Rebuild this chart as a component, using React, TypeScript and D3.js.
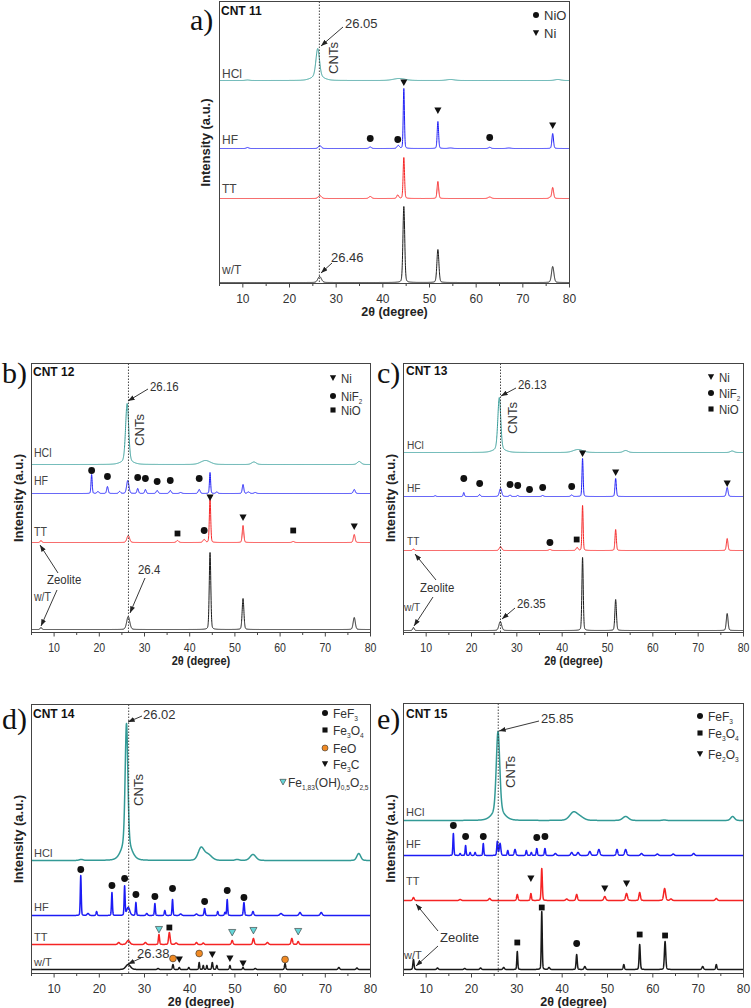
import React from 'react';
import * as d3 from 'd3';

type Peak = [number, number, number]; // [2θ, height (a.u.), FWHM (deg)]
type Pt = [number, number]; // [2θ, intensity (a.u.)]

const xTickValues = [10, 20, 30, 40, 50, 60, 70, 80];
const xMinorTickValues = [5, 15, 25, 35, 45, 55, 65, 75];
const seriesNames = ['HCl', 'HF', 'TT', 'w/T'];

// ---------------- a) CNT 11 ----------------
const aOffsets = [203, 135, 85, 1];
const aHCl: Peak[] = [[26.05, 28, 0.9], [26.0, 4, 3.0], [43.5, 2, 3], [54.5, 1, 2], [77.5, 1, 1.5], [11, 0.5, 1]];
const aHF: Peak[] = [[11, 1, 0.6], [26.5, 3, 0.7], [37.3, 1.5, 0.6], [43.3, 3, 0.6], [44.5, 60, 0.3], [51.8, 27, 0.35], [62.9, 1.2, 0.6], [76.4, 15, 0.4], [54.5, 0.5, 1], [67, 0.5, 1]];
const aTT: Peak[] = [[26.5, 3, 0.8], [37.3, 2, 0.7], [43.2, 3.5, 0.5], [44.5, 41, 0.35], [51.8, 17, 0.4], [62.9, 1.5, 0.8], [76.4, 11, 0.45], [75.8, 1, 0.5]];
const aWT: Peak[] = [[26.46, 6, 0.9], [44.5, 76, 0.45], [51.8, 33, 0.5], [76.4, 16, 0.6]];
const aNiMarks: Pt[] = [[44.5, 201], [51.8, 173], [76.4, 158]];
const aNiOMarks: Pt[] = [[37.3, 145], [43.2, 144], [62.9, 146]];

// ---------------- b) CNT 12 ----------------
const bOffsets = [168, 139, 90, 3];
const bHCl: Peak[] = [[26.16, 58, 0.8], [26.1, 3, 3], [43.5, 4, 2.5], [54.2, 2.5, 1.2], [77.5, 3, 1]];
const bHF: Peak[] = [[18.3, 19, 0.3], [19.7, 2, 0.5], [21.8, 7, 0.4], [24.5, 2, 0.5], [26.3, 13, 0.6], [28.5, 5, 0.4], [30.2, 4, 0.4], [32.8, 3, 0.5], [35.7, 3, 0.5], [38, 1, 0.6], [42.1, 4, 0.5], [44.5, 21, 0.3], [46, 1.5, 0.5], [51.8, 9, 0.4], [53, 1.5, 0.6], [54.5, 1, 0.6], [76.4, 4, 0.5]];
const bTT: Peak[] = [[7.1, 2, 0.4], [26.4, 7, 0.7], [37.3, 2, 0.6], [43.2, 3, 0.6], [44.5, 44, 0.35], [51.8, 17, 0.4], [62.9, 1, 0.6], [76.4, 8, 0.45]];
const bWT: Peak[] = [[7.1, 2, 0.4], [26.4, 13, 0.8], [44.5, 77, 0.4], [51.8, 31, 0.45], [76.4, 12, 0.55]];
const bNiMarks: Pt[] = [[44.5, 135], [51.8, 115], [76.4, 106]];
const bNiF2Marks: Pt[] = [[18.3, 162], [21.8, 156], [28.5, 155], [30.2, 154], [32.8, 151], [35.7, 152], [42.1, 154], [43.2, 102]];
const bNiOMarks: Pt[] = [[37.3, 99], [62.9, 102]];

// ---------------- c) CNT 13 ----------------
const cOffsets = [180, 136, 82, 2];
const cHCl: Peak[] = [[26.13, 52, 0.75], [26.1, 3, 3], [43.5, 3, 2.5], [54, 2, 1.2], [77.5, 1.5, 1]];
const cHF: Peak[] = [[12, 0.8, 0.4], [18.3, 4, 0.3], [21.8, 2, 0.4], [26.4, 8, 0.6], [28.5, 1.5, 0.4], [30.2, 1, 0.4], [35.7, 1, 0.5], [42.1, 1.5, 0.5], [44.5, 38, 0.3], [51.8, 18, 0.35], [76.4, 9, 0.45]];
const cTT: Peak[] = [[7.2, 1.5, 0.4], [26.4, 4, 0.6], [37.3, 1, 0.6], [43.3, 3, 0.5], [44.5, 45, 0.3], [51.8, 21, 0.35], [76.4, 12, 0.4]];
const cWT: Peak[] = [[7.2, 3, 0.4], [26.35, 9, 0.7], [44.5, 73, 0.35], [51.8, 31, 0.4], [76.4, 17, 0.45]];
const cNiMarks: Pt[] = [[44.5, 179], [51.8, 160], [76.4, 149]];
const cNiF2Marks: Pt[] = [[18.3, 154], [21.8, 149], [28.5, 148], [30.2, 147], [32.8, 143], [35.7, 145], [42.1, 146], [37.3, 90]];
const cNiOMarks: Pt[] = [[43.2, 93]];

// ---------------- d) CNT 14 ----------------
const dOffsets = [113, 58, 29, 4];
const dHCl: Peak[] = [[26.02, 120, 0.7], [26.0, 17, 2.5], [16, 1, 1], [42.5, 12, 1.5], [44, 6, 2], [50.5, 1, 1], [54, 6, 1.5], [77.4, 7, 1.0]];
const dHF: Peak[] = [[15.9, 40, 0.25], [17.5, 2, 0.5], [19.4, 4, 0.3], [22.8, 23, 0.25], [25.6, 29, 0.25], [26.4, 8, 0.8], [28.1, 13, 0.25], [30.5, 2, 0.4], [32.3, 12, 0.25], [34.5, 5, 0.3], [36.2, 16, 0.25], [38, 1.5, 0.5], [41.5, 1.5, 0.5], [43.3, 7, 0.3], [46.2, 4, 0.3], [47.8, 3, 0.3], [48.3, 16, 0.25], [52, 13, 0.3], [54, 4, 0.4], [60.2, 2, 0.6], [64.4, 3, 0.5], [69.1, 3, 0.5]];
const dTT: Peak[] = [[24.3, 2, 0.5], [26.4, 4, 0.8], [30.2, 2, 0.5], [33.2, 10, 0.3], [35.5, 12, 0.4], [37, 1.5, 0.5], [41.5, 2, 0.4], [43, 1.5, 0.4], [49.4, 4, 0.4], [54.1, 6, 0.4], [57.2, 2, 0.5], [62.6, 6, 0.4], [64, 3, 0.4]];
const dWT: Peak[] = [[26.38, 5, 1.2], [33, 1, 0.4], [36.3, 5, 0.3], [37.7, 2, 0.3], [39.8, 2, 0.3], [42.1, 7, 0.25], [43, 4, 0.25], [43.8, 4, 0.25], [45, 7, 0.3], [46, 4, 0.3], [48.9, 4, 0.3], [51.8, 2, 0.3], [54.5, 1, 0.4], [61.1, 6, 0.3], [73, 2, 0.4], [77, 1.5, 0.4]];
const dFeF3Marks: Pt[] = [[15.9, 104], [22.8, 88], [25.6, 95], [28.1, 79], [32.3, 77], [36.2, 85], [43.3, 72], [48.3, 83], [52, 76]];
const dFe3O4Marks: Pt[] = [[35.5, 46]];
const dFeOMarks: Pt[] = [[36.3, 15], [42.1, 20], [61.1, 14]];
const dFe3CMarks: Pt[] = [[37.7, 14], [45, 19], [48.9, 15], [51.8, 10]];
const dFeOOHMarks: Pt[] = [[33.2, 44], [49.4, 41], [54.1, 43], [64, 42]];

// ---------------- e) CNT 15 ----------------
const eOffsets = [153, 118, 73, 4];
const eHCl: Peak[] = [[25.85, 80, 0.9], [25.9, 9, 3], [42.5, 8, 2], [44, 3, 2], [54, 4, 1.5], [62.5, 0.5, 1], [77.6, 4, 1]];
const eHF: Peak[] = [[16, 22, 0.25], [17.5, 2, 0.3], [18.7, 10, 0.25], [19.7, 3, 0.3], [20.8, 3, 0.3], [22.6, 12, 0.25], [25.7, 14, 0.3], [26.3, 12, 0.4], [28, 5, 0.3], [29.6, 6, 0.4], [32.1, 5, 0.3], [33.2, 3, 0.3], [34.4, 7, 0.3], [36.2, 7, 0.3], [38.5, 2, 0.5], [42.1, 3, 0.5], [43.5, 3, 0.5], [46.1, 4, 0.5], [48.1, 6, 0.5], [52.1, 6, 0.4], [54, 6, 0.5], [57.5, 2, 0.5], [61, 1.5, 0.5], [64.5, 1.5, 0.5], [69, 2, 0.5]];
const eTT: Peak[] = [[7.2, 3, 0.4], [17.5, 1, 0.5], [24, 2, 0.5], [30.1, 6, 0.35], [33.1, 7, 0.3], [35.5, 32, 0.3], [41, 1.5, 0.5], [43.2, 6, 0.4], [49.4, 4, 0.5], [54.2, 7, 0.5], [57.1, 8, 0.4], [62.6, 12, 0.5], [64, 1.5, 0.5], [74, 2, 0.5]];
const eWT: Peak[] = [[7.2, 10, 0.3], [12.5, 1.5, 0.4], [18.5, 1, 0.4], [22, 1.5, 0.4], [27.1, 2, 0.4], [30.1, 18, 0.25], [35.5, 58, 0.25], [37.1, 2, 0.4], [43.2, 15, 0.3], [45, 3, 0.4], [53.6, 5, 0.3], [57.1, 25, 0.3], [62.7, 28, 0.35], [71, 3, 0.4], [74, 5, 0.3]];
const eFeF3Marks: Pt[] = [[16, 148], [18.7, 137], [22.6, 137], [34.4, 136], [36.2, 137], [43.2, 30]];
const eFe3O4Marks: Pt[] = [[30.1, 31], [35.5, 66], [57.1, 39], [62.7, 38]];
const eFe2O3Marks: Pt[] = [[33.1, 95], [49.4, 85], [54.2, 90]];

// ---------------- styling / layout ----------------
const COLORS = ['#339a96', '#1c1cf5', '#f52424', '#1a1a1a'];
const FONT = "'Liberation Sans', Arial, sans-serif";
const SERIF = "'Liberation Serif', 'Times New Roman', serif";
const TEXT = '#333';

const grid = d3.range(5, 80.0001, 0.02);

function profile(peaks: Peak[], t: number) {
  let s = 0;
  for (const [c, h, w] of peaks) {
    const d = (t - c) / w;
    if (Math.abs(d) > 40) continue;
    const g = Math.exp(-4 * Math.LN2 * d * d);
    const l = 1 / (1 + 4 * d * d);
    s += h * (0.8 * g + 0.2 * l);
  }
  return s;
}

type Shape = 'circle' | 'tri' | 'square';
function Sym({ shape, x, y, fill = '#111', size = 3.4 }: { shape: Shape; x: number; y: number; fill?: string; size?: number }) {
  const stroke = fill === '#111' ? 'none' : '#333';
  if (shape === 'circle') return <circle cx={x} cy={y} r={size} fill={fill} stroke={stroke} strokeWidth={0.6} />;
  if (shape === 'square') return <rect x={x - size * 0.85} y={y - size * 0.85} width={size * 1.7} height={size * 1.7} fill={fill} stroke={stroke} strokeWidth={0.6} />;
  const s = size * 1.05;
  return <path d={`M${x - s},${y - s * 0.85} L${x + s},${y - s * 0.85} L${x},${y + s * 0.95} Z`} fill={fill} stroke={stroke} strokeWidth={0.6} />;
}

type Part = { t: string; sub?: boolean };
type LegendItem = { shape: Shape; fill?: string; sx: number; sy: number; tx: number; parts: Part[] };
type MarkGroup = { pts: Pt[]; shape: Shape; fill?: string };
type Ann = { x: number; y: number; text: string; rot?: boolean; size?: number };
type Arrow = [number, number, number, number];

interface PanelCfg {
  left: number; top: number; right: number; bottom: number;
  letter: string; lx: number; ly: number;
  title: string; tx: number; ty: number;
  peaks: Peak[][]; offsets: number[];
  labelPos: Pt[]; labelSize: number;
  dotted: number;
  marks: MarkGroup[];
  legend: LegendItem[]; legendSize: number;
  anns: Ann[]; arrows: Arrow[];
  ylabX: number; narrow: boolean; lineW: number;
}

function Panel({ cfg, id }: { cfg: PanelCfg; id: string }) {
  const x = d3.scaleLinear().domain([5, 80]).range([cfg.left, cfg.right]);
  const y = d3.scaleLinear().domain([0, cfg.bottom - cfg.top]).range([cfg.bottom, cfg.top]);
  const line = d3.line<Pt>().x(d => x(d[0])).y(d => y(d[1]));
  const mid = (cfg.top + cfg.bottom) / 2;
  const sx = cfg.narrow ? 0.88 : 1;
  // text with optional horizontal condensing (narrow font look)
  const T = (px: number, py: number, props: any, children: any, key?: any) => (
    <text key={key} transform={`translate(${px},${py}) scale(${sx},1)`} {...props}>{children}</text>
  );
  return (
    <g>
      <defs>
        <clipPath id={`clip-${id}`}>
          <rect x={cfg.left} y={cfg.top} width={cfg.right - cfg.left} height={cfg.bottom - cfg.top} />
        </clipPath>
      </defs>
      <g clipPath={`url(#clip-${id})`}>
        {cfg.peaks.map((pk, i) => {
          const pts: Pt[] = grid.map(t => [t, cfg.offsets[i] + profile(pk, t)]);
          return <path key={i} d={line(pts) || ''} fill="none" stroke={COLORS[i]} strokeWidth={cfg.lineW} strokeLinejoin="round" />;
        })}
      </g>
      <line x1={x(cfg.dotted)} x2={x(cfg.dotted)} y1={cfg.top} y2={cfg.bottom} stroke="#333" strokeWidth={0.9} strokeDasharray="1.5,1.5" />
      <rect x={cfg.left} y={cfg.top} width={cfg.right - cfg.left} height={cfg.bottom - cfg.top} fill="none" stroke="#444" strokeWidth={1} />
      {xTickValues.map(v => (
        <g key={v}>
          <line x1={x(v)} x2={x(v)} y1={cfg.bottom} y2={cfg.bottom + 4} stroke="#444" />
          {T(x(v), cfg.bottom + 19, { textAnchor: 'middle', fontSize: 12, fontFamily: FONT, fill: TEXT }, v)}
        </g>
      ))}
      {xMinorTickValues.map(v => (
        <line key={v} x1={x(v)} x2={x(v)} y1={cfg.bottom} y2={cfg.bottom + 2.5} stroke="#444" />
      ))}
      {T((cfg.left + cfg.right) / 2, cfg.bottom + 32, { textAnchor: 'middle', fontSize: 12.5, fontWeight: 'bold', fontFamily: FONT, fill: '#222' }, '2θ  (degree)')}
      <text transform={`translate(${cfg.ylabX},${mid}) rotate(-90)`} textAnchor="middle" dominantBaseline="central" fontSize={13} fontWeight="bold" fontFamily={FONT} fill="#222">Intensity (a.u.)</text>
      <text x={cfg.lx} y={cfg.ly} fontSize={30} fontFamily={SERIF} fill="#111">{cfg.letter}</text>
      <text x={cfg.tx} y={cfg.ty} fontSize={12} fontWeight="bold" fontFamily={FONT} fill="#111">{cfg.title}</text>
      {seriesNames.map((n, i) => T(cfg.labelPos[i][0], cfg.labelPos[i][1], { fontSize: cfg.labelSize, fontFamily: FONT, fill: '#444' }, n, n))}
      {cfg.marks.map((m, i) => m.pts.map((p, j) => (
        <Sym key={`${i}-${j}`} shape={m.shape} fill={m.fill} x={x(p[0])} y={y(p[1])} />
      )))}
      {cfg.legend.map((l, i) => (
        <g key={i}>
          <Sym shape={l.shape} fill={l.fill} x={l.sx} y={l.sy} size={3} />
          {T(l.tx, l.sy + 4.5, { fontSize: cfg.legendSize, fontFamily: FONT, fill: TEXT },
            l.parts.map((p, k) => p.sub
              ? <tspan key={k} fontSize={cfg.legendSize * 0.55} dy={3}>{p.t}</tspan>
              : <tspan key={k} dy={k > 0 && l.parts[k - 1].sub ? -3 : 0}>{p.t}</tspan>))}
        </g>
      ))}
      {cfg.anns.map((a, i) => a.rot
        ? <text key={i} transform={`translate(${a.x},${a.y}) rotate(-90)`} textAnchor="middle" dominantBaseline="central" fontSize={a.size || 13} fontFamily={FONT} fill={TEXT}>{a.text}</text>
        : T(a.x, a.y, { fontSize: a.size || 13, fontFamily: FONT, fill: TEXT }, a.text, i))}
      {cfg.arrows.map((a, i) => (
        <line key={i} x1={a[0]} y1={a[1]} x2={a[2]} y2={a[3]} stroke="#222" strokeWidth={0.9} markerEnd="url(#arrowHead)" />
      ))}
    </g>
  );
}

const niLegend = (sx: number, tx: number, y0: number[]): LegendItem[] => [
  { shape: 'tri', sx, sy: y0[0], tx, parts: [{ t: 'Ni' }] },
  { shape: 'circle', sx, sy: y0[1], tx, parts: [{ t: 'NiF' }, { t: '2', sub: true }] },
  { shape: 'square', sx, sy: y0[2], tx, parts: [{ t: 'NiO' }] },
];

const panels: PanelCfg[] = [
  {
    left: 219.5, top: 1.5, right: 569.5, bottom: 283.5,
    letter: 'a)', lx: 190, ly: 30, title: 'CNT 11', tx: 221, ty: 15,
    peaks: [aHCl, aHF, aTT, aWT], offsets: aOffsets,
    labelPos: [[222, 78], [222, 144], [222, 193], [222, 274]], labelSize: 12,
    dotted: 26.4,
    marks: [{ pts: aNiMarks, shape: 'tri' }, { pts: aNiOMarks, shape: 'circle' }],
    legend: [
      { shape: 'circle', sx: 536, sy: 15, tx: 544, parts: [{ t: 'NiO' }] },
      { shape: 'tri', sx: 536, sy: 33, tx: 544, parts: [{ t: 'Ni' }] },
    ], legendSize: 13,
    anns: [
      { x: 345, y: 28, text: '26.05' }, { x: 333, y: 58, text: 'CNTs', rot: true },
      { x: 331, y: 262, text: '26.46' },
    ],
    arrows: [[343, 27, 321, 46], [332, 263, 321, 273]],
    ylabX: 205, narrow: false, lineW: 1,
  },
  {
    left: 31.5, top: 363.5, right: 370.5, bottom: 632.5,
    letter: 'b)', lx: 2, ly: 383, title: 'CNT 12', tx: 33, ty: 376,
    peaks: [bHCl, bHF, bTT, bWT], offsets: bOffsets,
    labelPos: [[34, 457], [34, 485], [34, 536], [34, 601]], labelSize: 12,
    dotted: 26.45,
    marks: [{ pts: bNiMarks, shape: 'tri' }, { pts: bNiF2Marks, shape: 'circle' }, { pts: bNiOMarks, shape: 'square' }],
    legend: niLegend(333, 341, [378, 396, 410]), legendSize: 13,
    anns: [
      { x: 150, y: 391, text: '26.16' }, { x: 139, y: 430, text: 'CNTs', rot: true },
      { x: 138, y: 574, text: '26.4' }, { x: 47, y: 584, text: 'Zeolite' },
    ],
    arrows: [[148, 389, 128, 401], [145, 578, 130, 613], [58, 573, 40, 545], [57, 590, 41, 626]],
    ylabX: 18, narrow: true, lineW: 1,
  },
  {
    left: 403.5, top: 363.5, right: 743.5, bottom: 632.5,
    letter: 'c)', lx: 377, ly: 383, title: 'CNT 13', tx: 406, ty: 375,
    peaks: [cHCl, cHF, cTT, cWT], offsets: cOffsets,
    labelPos: [[407, 449], [407, 492], [407, 545], [404, 611]], labelSize: 11.5,
    dotted: 26.4,
    marks: [{ pts: cNiMarks, shape: 'tri' }, { pts: cNiF2Marks, shape: 'circle' }, { pts: cNiOMarks, shape: 'square' }],
    legend: niLegend(711, 719, [377, 393, 409]), legendSize: 13,
    anns: [
      { x: 518, y: 389, text: '26.13' }, { x: 512, y: 418, text: 'CNTs', rot: true },
      { x: 517, y: 608, text: '26.35' }, { x: 420, y: 592, text: 'Zeolite' },
    ],
    arrows: [[516, 388, 501, 396], [515, 608, 502, 619], [436, 580, 415, 554], [433, 597, 414, 626]],
    ylabX: 390, narrow: true, lineW: 1,
  },
  {
    left: 31.5, top: 704.5, right: 370.5, bottom: 973.5,
    letter: 'd)', lx: 2, ly: 729, title: 'CNT 14', tx: 33, ty: 718,
    peaks: [dHCl, dHF, dTT, dWT], offsets: dOffsets,
    labelPos: [[34, 857], [34, 911], [34, 941], [34, 966]], labelSize: 11,
    dotted: 26.5,
    marks: [
      { pts: dFeF3Marks, shape: 'circle' }, { pts: dFe3O4Marks, shape: 'square' },
      { pts: dFeOMarks, shape: 'circle', fill: '#f08a24' }, { pts: dFe3CMarks, shape: 'tri' },
      { pts: dFeOOHMarks, shape: 'tri', fill: '#66d6d8' },
    ],
    legend: [
      { shape: 'circle', sx: 325, sy: 713, tx: 333, parts: [{ t: 'FeF' }, { t: '3', sub: true }] },
      { shape: 'square', sx: 325, sy: 730, tx: 333, parts: [{ t: 'Fe' }, { t: '3', sub: true }, { t: 'O' }, { t: '4', sub: true }] },
      { shape: 'circle', fill: '#f08a24', sx: 325, sy: 748, tx: 333, parts: [{ t: 'FeO' }] },
      { shape: 'tri', sx: 325, sy: 764, tx: 333, parts: [{ t: 'Fe' }, { t: '3', sub: true }, { t: 'C' }] },
      { shape: 'tri', fill: '#66d6d8', sx: 283, sy: 782, tx: 288, parts: [{ t: 'Fe' }, { t: '1,83', sub: true }, { t: '(OH)' }, { t: '0,5', sub: true }, { t: 'O' }, { t: '2,5', sub: true }] },
    ], legendSize: 12,
    anns: [
      { x: 143, y: 719, text: '26.02' }, { x: 138, y: 790, text: 'CNTs', rot: true },
      { x: 137, y: 958, text: '26.38' },
    ],
    arrows: [[142, 716, 128, 722], [141, 958, 128, 964]],
    ylabX: 18, narrow: false, lineW: 1.5,
  },
  {
    left: 403.5, top: 703.5, right: 743.5, bottom: 973.5,
    letter: 'e)', lx: 377, ly: 729, title: 'CNT 15', tx: 406, ty: 718,
    peaks: [eHCl, eHF, eTT, eWT], offsets: eOffsets,
    labelPos: [[406, 816], [406, 848], [406, 885], [404, 959]], labelSize: 11,
    dotted: 25.9,
    marks: [{ pts: eFeF3Marks, shape: 'circle' }, { pts: eFe3O4Marks, shape: 'square' }, { pts: eFe2O3Marks, shape: 'tri' }],
    legend: [
      { shape: 'circle', sx: 700, sy: 716, tx: 708, parts: [{ t: 'FeF' }, { t: '3', sub: true }] },
      { shape: 'square', sx: 700, sy: 733, tx: 708, parts: [{ t: 'Fe' }, { t: '3', sub: true }, { t: 'O' }, { t: '4', sub: true }] },
      { shape: 'tri', sx: 700, sy: 754, tx: 708, parts: [{ t: 'Fe' }, { t: '2', sub: true }, { t: 'O' }, { t: '3', sub: true }] },
    ], legendSize: 12,
    anns: [
      { x: 541, y: 723, text: '25.85' }, { x: 510, y: 772, text: 'CNTs', rot: true },
      { x: 440, y: 942, text: 'Zeolite' },
    ],
    arrows: [[539, 721, 499, 731], [438, 931, 416, 904], [438, 946, 416, 966]],
    ylabX: 390, narrow: false, lineW: 1.5,
  },
];

export default function App() {
  return (
    <svg width={751} height={1008} viewBox="0 0 751 1008" style={{ position: 'absolute', left: 0, top: 0, background: '#fff' }}>
      <defs>
        <marker id="arrowHead" viewBox="0 0 8 6" refX={8} refY={3} markerWidth={7} markerHeight={5} markerUnits="userSpaceOnUse" orient="auto">
          <path d="M0,0 L8,3 L0,6 Z" fill="#222" />
        </marker>
      </defs>
      <rect width={751} height={1008} fill="#fff" />
      {panels.map((p, i) => <Panel key={i} id={`p${i}`} cfg={p} />)}
    </svg>
  );
}
